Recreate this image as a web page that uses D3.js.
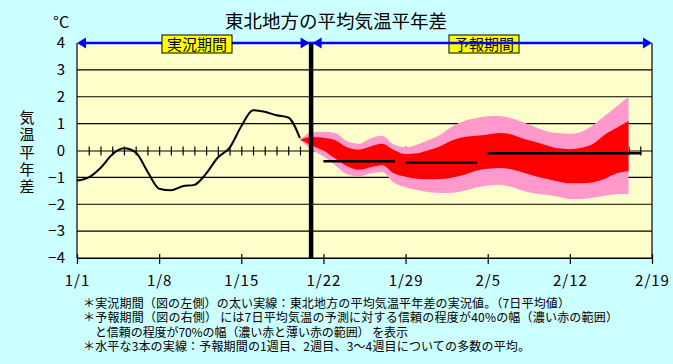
<!DOCTYPE html>
<html>
<head>
<meta charset="utf-8">
<script src="https://cdn.jsdelivr.net/npm/d3@7"></script>
<style>
  body { margin: 0; background: #ccffff; }
  svg { display: block; }
  text { font-family: "Noto Sans CJK JP", "Noto Sans", sans-serif; fill: #000; }
</style>
</head>
<body>
<div id="chart"></div>
<script>
// observed 7-day mean anomaly, one value per day from 1/1
var obsValues = [-1.12, -1.0, -0.65, -0.15, 0.08, -0.07, -0.78, -1.42, -1.48, -1.33,
                 -1.28, -0.86, -0.26, 0.1, 0.9, 1.5, 1.44, 1.31, 1.23, 0.46];

// forecast bands, one value per day from day index 19 (1/20)
var bandStart = 19;
var outerUpper = [0.4, 0.68, 0.7, 0.65, 0.35, 0.25, 0.45, 0.55, 0.22, 0.12,
                  0.22, 0.4, 0.6, 0.9, 1.1, 1.2, 1.27, 1.28, 1.2, 1.06,
                  0.88, 0.72, 0.65, 0.62, 0.7, 0.95, 1.3, 1.65, 2.0];
var innerUpper = [0.4, 0.5, 0.47, 0.38, 0.12, 0.03, 0.15, 0.25, 0.02, -0.13,
                  -0.1, 0.02, 0.17, 0.38, 0.5, 0.55, 0.6, 0.65, 0.6, 0.45,
                  0.33, 0.2, 0.08, 0.05, 0.1, 0.25, 0.6, 0.85, 1.1];
var innerLower = [0.4, 0.19, 0.0, -0.3, -0.58, -0.72, -0.62, -0.55, -0.85, -0.98,
                  -1.05, -1.07, -1.06, -1.0, -0.9, -0.75, -0.68, -0.65, -0.7, -0.82,
                  -0.95, -1.05, -1.15, -1.22, -1.22, -1.18, -1.05, -0.85, -0.77];
var outerLower = [0.4, 0.03, -0.22, -0.55, -0.88, -0.97, -0.85, -0.8, -1.2, -1.37,
                  -1.47, -1.55, -1.58, -1.57, -1.5, -1.38, -1.3, -1.27, -1.35, -1.5,
                  -1.6, -1.65, -1.72, -1.8, -1.8, -1.75, -1.68, -1.63, -1.62];

// ensemble mean for week 1, week 2, weeks 3-4 (start day, end day, value)
var weekStart = [21, 28, 35];
var weekEnd = [27.1, 34.1, 48.1];
var weekValue = [-0.4, -0.45, -0.1];

var splitDay = 19.95;
var xTickLabels = ["1/1", "1/8", "1/15", "1/22", "1/29", "2/5", "2/12", "2/19"];
var yTicks = [-4, -3, -2, -1, 0, 1, 2, 3, 4];
var notes = [
  "＊実況期間（図の左側）の太い実線：東北地方の平均気温平年差の実況値。（7日平均値）",
  "＊予報期間（図の右側） には7日平均気温の予測に対する信頼の程度が40%の幅（濃い赤の範囲）",
  "　と信頼の程度が70%の幅（濃い赤と薄い赤の範囲） を表示",
  "＊水平な3本の実線：予報期間の1週目、2週目、3～4週目についての多数の平均。"
];
var noteWidths = [487, 535, 325, 447];

var W = 673, H = 364;
var svg = d3.select("#chart").append("svg")
    .attr("width", W)
    .attr("height", H);

var x = d3.scaleLinear().domain([0, 49]).range([77, 652]);
var y = d3.scaleLinear().domain([-4, 4]).range([258, 43]);

// plot background
svg.append("rect")
    .attr("x", x(0)).attr("y", y(4))
    .attr("width", x(49) - x(0)).attr("height", y(-4) - y(4))
    .style("fill", "#ffffcc");

// grid lines
svg.selectAll(".grid").data(yTicks.filter(function(v) { return v != 0 && v != 4; }))
  .enter().append("line")
    .attr("x1", x(0)).attr("x2", x(49))
    .attr("y1", function(d) { return y(d); })
    .attr("y2", function(d) { return y(d); })
    .attr("stroke", "black").attr("stroke-width", 1.2);

// zero axis with daily ticks
var zeroAxis = svg.append("g")
    .attr("transform", "translate(0," + y(0) + ")")
    .call(d3.axisBottom(x).tickValues(d3.range(1, 49)).tickFormat("").tickSizeOuter(0));
zeroAxis.select(".domain").attr("stroke-width", 1.2);
zeroAxis.selectAll(".tick line").attr("y1", -4).attr("y2", 5).attr("stroke-width", 1.2);

// forecast bands
var bandDays = outerUpper.map(function(d, i) { return bandStart + i; });
var area = function(top, bottom) {
  return d3.area()
    .x(function(d, i) { return x(bandDays[i]); })
    .y0(function(d, i) { return y(bottom[i]); })
    .y1(function(d, i) { return y(top[i]); })
    .curve(d3.curveMonotoneX)(bandDays);
};
svg.append("path").attr("d", area(outerUpper, outerLower)).style("fill", "#ff99cc");
svg.append("path").attr("d", area(innerUpper, innerLower)).style("fill", "#ff0000");

// plot frame
svg.append("line")
    .attr("x1", x(0)).attr("x2", x(0)).attr("y1", y(4)).attr("y2", y(-4))
    .attr("stroke", "black").attr("stroke-width", 1.2);
svg.append("line")
    .attr("x1", x(49)).attr("x2", x(49)).attr("y1", y(4)).attr("y2", y(-4))
    .attr("stroke", "black").attr("stroke-width", 1.2);

// bottom axis
var xAxis = svg.append("g")
    .attr("transform", "translate(0," + y(-4) + ")")
    .call(d3.axisBottom(x).tickValues(d3.range(0, 50, 7))
      .tickFormat(function(d, i) { return xTickLabels[i]; })
      .tickSizeOuter(0).tickPadding(8));
xAxis.select(".domain").attr("stroke-width", 1.2);
xAxis.selectAll(".tick line").attr("y1", -4).attr("y2", 6).attr("stroke-width", 1.2);
xAxis.selectAll(".tick text")
    .style("font-size", "15px")
    .style("letter-spacing", "1px")
    .style("font-family", "'Noto Sans CJK JP', sans-serif")
    .attr("dy", "0.9em");

// left tick labels
var yAxis = svg.append("g")
    .attr("transform", "translate(" + x(0) + ",0)")
    .call(d3.axisLeft(y).tickValues(yTicks).tickSize(0).tickPadding(12));
yAxis.select(".domain").remove();
yAxis.selectAll(".tick text")
    .style("font-size", "15px")
    .style("font-family", "'Noto Sans CJK JP', sans-serif");

// observed line
var line = d3.line()
    .x(function(d, i) { return x(i); })
    .y(function(d) { return y(d); })
    .curve(d3.curveMonotoneX);
svg.append("path")
    .attr("d", line(obsValues))
    .attr("fill", "none")
    .attr("stroke", "black")
    .attr("stroke-width", 2);

// week mean lines
svg.selectAll(".week").data(weekValue).enter().append("line")
    .attr("x1", function(d, i) { return x(weekStart[i]); })
    .attr("x2", function(d, i) { return x(weekEnd[i]); })
    .attr("y1", function(d) { return y(d); })
    .attr("y2", function(d) { return y(d); })
    .attr("stroke", "black").attr("stroke-width", 2.4);

// split line
svg.append("line")
    .attr("x1", x(splitDay)).attr("x2", x(splitDay))
    .attr("y1", y(4)).attr("y2", y(-4))
    .attr("stroke", "black").attr("stroke-width", 4.5);

// period labels and arrows
function periodBox(cx, label) {
  svg.append("rect")
      .attr("x", cx - 35).attr("y", 35)
      .attr("width", 70).attr("height", 18)
      .style("fill", "#ffff00").attr("stroke", "black").attr("stroke-width", 1);
  svg.append("text")
      .attr("x", cx).attr("y", 49.5)
      .attr("text-anchor", "middle")
      .style("font-size", "15px")
      .text(label);
}
periodBox(484, "予報期間");

svg.append("line")
    .attr("x1", x(0) + 4).attr("x2", x(49) - 4)
    .attr("y1", y(4)).attr("y2", y(4))
    .attr("stroke", "#0000ff").attr("stroke-width", 2.5);

function arrow(tip, dir) {
  var yy = y(4);
  svg.append("path")
      .attr("d", "M" + tip + " " + yy + " L" + (tip - dir * 9) + " " + (yy - 5.5) +
                 " L" + (tip - dir * 9) + " " + (yy + 5.5) + " Z")
      .style("fill", "#0000ff");
}
arrow(x(0), -1);
arrow(x(splitDay) - 1.5, 1);
arrow(x(splitDay) + 1.5, -1);
arrow(x(49), 1);

periodBox(197, "実況期間");

// title and axis titles
svg.append("text")
    .attr("x", 336).attr("y", 28)
    .attr("text-anchor", "middle")
    .style("font-size", "18.5px")
    .text("東北地方の平均気温平年差");

svg.append("text")
    .attr("x", 53).attr("y", 28)
    .style("font-size", "16px")
    .text("°C");

svg.append("text")
    .attr("x", 27).attr("y", 110)
    .style("writing-mode", "vertical-rl")
    .style("font-size", "15px")
    .style("letter-spacing", "2.2px")
    .text("気温平年差");

// footnotes, one text block
svg.append("text")
    .style("font-size", "12px")
  .selectAll("tspan").data(notes).enter().append("tspan")
    .attr("x", 83)
    .attr("y", function(d, i) { return 307.5 + i * 14.5; })
    .attr("textLength", function(d, i) { return noteWidths[i]; })
    .attr("lengthAdjust", "spacing")
    .text(function(d) { return d; });
</script>
</body>
</html>
